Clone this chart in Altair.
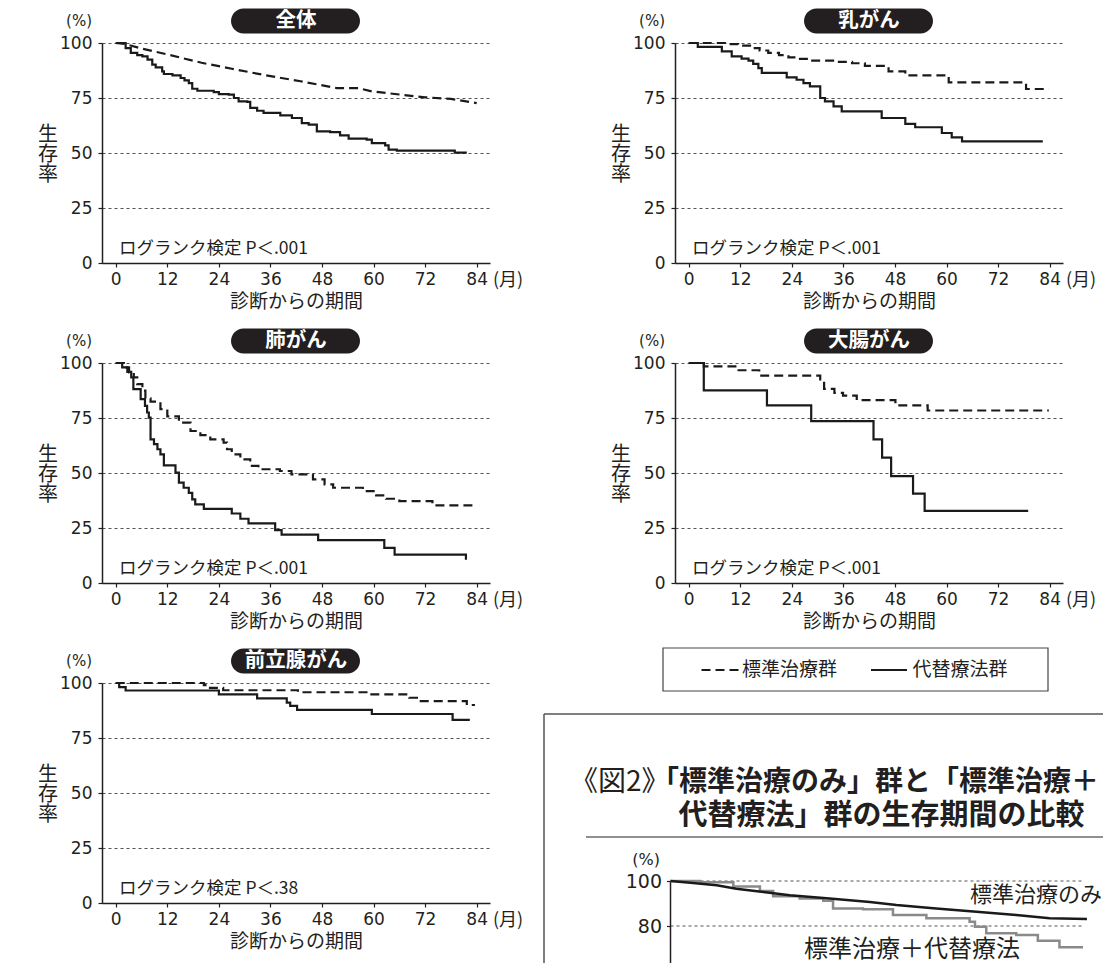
import altair as alt
import pandas as pd

# ---------------- data ----------------
MONTH_TICKS = [0, 12, 24, 36, 48, 60, 72, 84]
PCT_TICKS = [0, 25, 50, 75, 100]

PANEL_TITLES = ["全体", "乳がん", "肺がん", "大腸がん", "前立腺がん"]
PVALUES = ["P＜.001", "P＜.001", "P＜.001", "P＜.001", "P＜.38"]

# 全体
ALL_STD_M = [0, 2, 6, 12, 20, 27, 35, 43, 51.5, 56.5, 59.6, 66, 72, 78, 84]
ALL_STD_S = [100, 99.6, 97.5, 94.8, 91.0, 88.3, 85.3, 82.6, 79.5, 79.5, 78.0, 76.6, 75.3, 74.6, 72.7]
ALL_ALT_M = [0, 2.3, 3.5, 5.0, 6.2, 7.4, 8.5, 9.3, 10.8, 11.2, 13.2, 15.1, 16.0, 17.0, 17.8, 19.0,
             22.8, 24.0, 26.3, 27.5, 28.6, 30.6, 31.3, 32.9, 34.4, 38.3, 41.0, 43.3, 44.9, 46.8,
             49.9, 52.2, 54.2, 58.4, 59.6, 62.7, 63.5, 65.4, 78.9, 81.7]
ALL_ALT_S = [100, 97.7, 95.5, 94.5, 93.9, 92.4, 90.2, 88.9, 87.1, 85.9, 85.3, 84.1, 83.0, 81.8, 79.2, 78.3,
             77.7, 76.8, 76.5, 75.0, 73.5, 73.2, 70.5, 69.2, 68.2, 67.1, 65.9, 63.6, 62.9, 59.8,
             59.5, 58.0, 56.5, 56.1, 54.5, 53.5, 51.5, 51.1, 50.2, 50.2]

# 乳がん
BR_STD_M = [0, 8.4, 11.5, 14.6, 16.5, 18.5, 21.0, 23.2, 25.5, 27.8, 34.1, 38.0, 41.0, 46.5, 50.4, 60.5, 78.5, 83.8]
BR_STD_S = [100, 99.5, 98.8, 97.7, 96.6, 95.5, 94.5, 93.5, 92.8, 92.0, 91.4, 90.8, 89.6, 87.1, 85.3, 82.1, 79.1, 79.1]
BR_ALT_M = [0, 2.1, 7.7, 10.0, 12.3, 13.9, 15.0, 16.2, 17.0, 22.8, 25.1, 26.7, 28.2, 30.6, 31.7, 33.7,
            35.6, 44.9, 50.4, 52.7, 58.9, 61.2, 63.6, 82.4]
BR_ALT_S = [100, 98.2, 96.2, 93.9, 92.9, 92.0, 90.5, 88.6, 86.4, 84.4, 83.3, 81.8, 80.3, 75.0, 73.5, 71.2,
            68.9, 65.9, 63.2, 61.7, 59.1, 57.1, 55.3, 55.3]

# 肺がん
LU_STD_M = [0, 1.9, 3.1, 4.2, 5.0, 6.2, 6.9, 8.1, 10.4, 12.0, 14.7, 17.4, 19.7, 22.0, 25.1, 25.9, 27.0,
            29.0, 31.3, 33.2, 38.2, 40.9, 45.9, 48.6, 50.6, 57.5, 60.6, 62.9, 66.0, 73.7, 83.8]
LU_STD_S = [100, 98.0, 95.7, 93.5, 90.4, 87.4, 83.9, 82.4, 79.0, 75.7, 72.9, 69.1, 67.2, 65.3, 63.8, 60.8, 58.5,
            56.2, 53.2, 51.7, 50.9, 49.4, 47.1, 44.8, 43.3, 41.8, 39.8, 38.3, 37.2, 35.3, 35.3]
LU_ALT_M = [0, 1.5, 2.7, 3.6, 4.1, 5.8, 6.8, 7.3, 7.7, 8.1, 8.9, 9.7, 10.4, 11.2, 13.9, 14.7, 15.8, 17.0,
            17.8, 18.5, 20.5, 27.0, 29.0, 30.9, 37.1, 38.6, 47.1, 62.5, 64.9, 81.5]
LU_ALT_S = [100, 98.0, 96.0, 93.5, 88.1, 83.6, 80.5, 77.5, 75.2, 65.3, 63.1, 60.8, 58.5, 53.5, 50.2, 45.6, 43.3, 41.0,
            38.0, 35.7, 33.7, 31.6, 29.2, 27.1, 24.0, 22.0, 19.5, 16.0, 12.9, 10.6]

# 大腸がん
CO_STD_M = [0, 3.5, 11.2, 16.4, 30.6, 31.5, 33.9, 35.9, 39.1, 48.1, 55.6, 83.8]
CO_STD_S = [100, 98.5, 96.7, 94.3, 91.7, 88.2, 86.4, 85.2, 83.1, 80.7, 78.4, 78.4]
CO_ALT_M = [0, 3.5, 18.2, 28.5, 43.0, 45.0, 47.1, 52.2, 54.9, 79.0]
CO_ALT_S = [100, 87.6, 80.7, 73.6, 65.3, 57.0, 48.6, 40.6, 32.8, 32.8]

# 前立腺がん
PR_STD_M = [0, 20.5, 21.5, 25.0, 42.4, 58.9, 68.3, 70.6, 81.7, 83.6]
PR_STD_S = [100, 99.0, 97.8, 96.7, 95.8, 94.8, 93.3, 91.8, 90.0, 90.0]
PR_ALT_M = [0, 0.8, 2.3, 24.0, 32.9, 39.8, 40.6, 42.2, 59.6, 78.4, 82.4]
PR_ALT_S = [100, 98.1, 96.6, 94.8, 93.0, 91.1, 89.6, 87.8, 85.9, 83.2, 83.2]

# 図2 (only its top part is visible)
F2_STD_M = [0, 4.6, 9.4, 13.4, 18.9, 24.3, 32.4, 40.6, 46.0, 54.1, 62.3, 70.4, 77.2, 84.8]
F2_STD_S = [100, 99.1, 98.1, 96.6, 95.1, 93.7, 92.2, 90.7, 89.3, 87.8, 86.3, 84.9, 83.4, 83.1]
F2_CM_M = [0, 6.0, 12.8, 18.2, 20.9, 26.3, 31.1, 33.1, 39.2, 45.3, 52.1, 60.9, 62.0, 64.3, 70.4, 74.8, 79.2, 84.0]
F2_CM_S = [100, 99.4, 97.6, 95.6, 93.2, 92.2, 91.2, 87.8, 87.4, 84.9, 83.4, 81.9, 79.7, 76.8, 76.0, 73.5, 70.6, 70.6]
F2_PCT_TICKS = [80, 100]
F2_GRID = [80, 100]
F2_MONTH_RANGE = [0, 84]

LEGEND_LABELS = ["標準治療群", "代替療法群"]
F2_TITLE_PREFIX = "《図2》"
F2_TITLE_1 = "「標準治療のみ」群と「標準治療＋"
F2_TITLE_2 = "代替療法」群の生存期間の比較"
F2_LABEL_STD = "標準治療のみ"
F2_LABEL_CM = "標準治療＋代替療法"

# ---------------- styling ----------------
JP = "Noto Sans CJK JP"
NUM = "DejaVu Sans"
INK = "#231f20"
X_DOMAIN = [-3.2, 87.1]
PW, PH = 388, 220
DASH = [9, 5]
ONE = pd.DataFrame({"k": [0]})


def txt(text, x, y, size, font=JP, weight="normal", color=INK, align="left",
        baseline="middle", line_height=None):
    kw = dict(font=font, fontSize=size, fontWeight=weight, color=color,
              align=align, baseline=baseline)
    if line_height is not None:
        kw["lineBreak"] = "\n"
        kw["lineHeight"] = line_height
    return alt.Chart(pd.DataFrame({"t": [text]})).mark_text(**kw).encode(
        x=alt.value(x), y=alt.value(y), text="t:N")


def x_axis():
    return alt.Axis(values=MONTH_TICKS, title="診断からの期間", titleFont=JP, titleFontSize=19,
                    titleFontWeight="normal", titleColor=INK, titlePadding=5,
                    labelFont=NUM, labelFontSize=17, labelColor=INK,
                    labelPadding=4, labelFlush=False, labelOverlap=False,
                    tickSize=4, tickColor=INK, tickWidth=1.2,
                    domainColor=INK, domainWidth=1.5, grid=False)


def y_axis():
    return alt.Axis(values=PCT_TICKS, title=None, labelFont=NUM, labelFontSize=17,
                    labelColor=INK, labelPadding=6, labelOverlap=False,
                    tickSize=4, tickColor=INK, tickWidth=1.2,
                    domainColor=INK, domainWidth=1.5,
                    grid=True, gridDash=[3, 3], gridColor="#555555", gridWidth=1)


def curve(months, surv, dashed, interp, xenc_kw, yenc_kw, color="#1a1a1a", width=2.2):
    df = pd.DataFrame({"m": months, "s": surv})
    kw = dict(interpolate=interp, color=color, strokeWidth=width, strokeCap="butt")
    if dashed:
        kw["strokeDash"] = DASH
    return alt.Chart(df).mark_line(**kw).encode(
        x=alt.X("m:Q", **xenc_kw), y=alt.Y("s:Q", **yenc_kw))


def panel(title, pval, std_m, std_s, alt_m, alt_s, std_interp="step-after"):
    xk = dict(scale=alt.Scale(domain=X_DOMAIN, nice=False, zero=False), axis=x_axis())
    yk = dict(scale=alt.Scale(domain=[0, 100], nice=False), axis=y_axis())
    pill = alt.Chart(ONE).mark_rect(cornerRadius=12.5, color=INK).encode(
        x=alt.value(129), x2=alt.value(258), y=alt.value(-34.5), y2=alt.value(-9.5))
    layers = [
        curve(std_m, std_s, True, std_interp, xk, yk),
        curve(alt_m, alt_s, False, "step-after", xk, yk),
        pill,
        txt(title, 194, -22, 20.5, weight="bold", color="white", align="center"),
        txt("(%)", -10, -22, 15, font=NUM, align="right"),
        txt("生\n存\n率", -54, 92, 20, align="center", line_height=20),
        txt("ログランク検定 " + pval, 17, 206, 17.5),
        txt("(月)", 391, 238, 18),
    ]
    return alt.layer(*layers).properties(width=PW, height=PH)


p1 = panel(PANEL_TITLES[0], PVALUES[0], ALL_STD_M, ALL_STD_S, ALL_ALT_M, ALL_ALT_S, std_interp="linear")
p2 = panel(PANEL_TITLES[1], PVALUES[1], BR_STD_M, BR_STD_S, BR_ALT_M, BR_ALT_S)
p3 = panel(PANEL_TITLES[2], PVALUES[2], LU_STD_M, LU_STD_S, LU_ALT_M, LU_ALT_S)
p4 = panel(PANEL_TITLES[3], PVALUES[3], CO_STD_M, CO_STD_S, CO_ALT_M, CO_ALT_S)
p5 = panel(PANEL_TITLES[4], PVALUES[4], PR_STD_M, PR_STD_S, PR_ALT_M, PR_ALT_S)

# ---- legend + figure 2 cell (view = visible window part of figure 2) ----
FW, FH = 429, 280
PX_PER_MONTH = 4.911
PX_PER_PCT = 2.25
F2_X0 = 4.5      # px from the view's left edge back to month 0
F2_Y100 = 198    # px from the view's top down to 100 %
f2_xdom = [F2_X0 / PX_PER_MONTH, (FW + F2_X0) / PX_PER_MONTH]
f2_ydom = [100 - (FH - F2_Y100) / PX_PER_PCT, 100 + F2_Y100 / PX_PER_PCT]
f2x = dict(scale=alt.Scale(domain=f2_xdom, nice=False, zero=False), axis=None)
f2y = dict(scale=alt.Scale(domain=f2_ydom, nice=False, zero=False),
           axis=alt.Axis(values=F2_PCT_TICKS, title=None, domain=False, grid=False, offset=F2_X0,
                         labelFont=NUM, labelFontSize=19, labelColor=INK, labelPadding=5,
                         tickSize=4, tickColor=INK, tickWidth=1.2))

grid_df = pd.DataFrame({"m0": [F2_MONTH_RANGE[0]] * len(F2_GRID),
                        "m1": [F2_MONTH_RANGE[1]] * len(F2_GRID), "s": F2_GRID})
axis_df = pd.DataFrame({"m": [F2_MONTH_RANGE[0]], "s": [100]})

fig2 = alt.layer(
    # legend box
    alt.Chart(ONE).mark_rect(fill=None, stroke="#444444", strokeWidth=1.2).encode(
        x=alt.value(-12), x2=alt.value(373), y=alt.value(-35), y2=alt.value(8)),
    alt.Chart(ONE).mark_rule(color="#1a1a1a", strokeWidth=2.2, strokeDash=DASH).encode(
        x=alt.value(26.5), x2=alt.value(63.5), y=alt.value(-13)),
    txt(LEGEND_LABELS[0], 67, -13, 19),
    alt.Chart(ONE).mark_rule(color="#1a1a1a", strokeWidth=2.2).encode(
        x=alt.value(196), x2=alt.value(232), y=alt.value(-13)),
    txt(LEGEND_LABELS[1], 237.5, -13, 19),
    # figure-2 frame (only left and top edges are inside the window)
    alt.Chart(ONE).mark_rule(color="#555555", strokeWidth=1.5).encode(
        x=alt.value(-131), x2=alt.value(428), y=alt.value(31)),
    alt.Chart(ONE).mark_rule(color="#555555", strokeWidth=1.5).encode(
        x=alt.value(-131), y=alt.value(31), y2=alt.value(FH)),
    # title
    txt(F2_TITLE_PREFIX, -105, 100, 28),
    txt(F2_TITLE_1, -24, 100, 28, weight="bold"),
    txt(F2_TITLE_2, 3.5, 133, 29, weight="bold"),
    alt.Chart(ONE).mark_rule(color="#222222", strokeWidth=1.2).encode(
        x=alt.value(-89), x2=alt.value(428), y=alt.value(154)),
    txt("(%)", -15, 177, 16, font=NUM, align="right"),
    # plot
    alt.Chart(grid_df).mark_rule(color="#555555", strokeWidth=1, strokeDash=[3, 3]).encode(
        x=alt.X("m0:Q", **f2x), x2="m1:Q", y=alt.Y("s:Q", **f2y)),
    alt.Chart(axis_df).mark_rule(color=INK, strokeWidth=1.5).encode(
        x=alt.X("m:Q", **f2x), y=alt.Y("s:Q", **f2y), y2=alt.value(FH)),
    curve(F2_CM_M, F2_CM_S, False, "step-after", f2x, f2y, color="#8a8a8a", width=2.5),
    curve(F2_STD_M, F2_STD_S, False, "linear", f2x, f2y, color="#1a1a1a", width=2.5),
    txt(F2_LABEL_STD, 295, 212, 22),
    txt(F2_LABEL_CM, 129, 267, 24),
).properties(width=FW, height=FH)

chart = alt.concat(
    p1, p2, p3, p4, p5, fig2, columns=2,
    spacing={"row": 100, "column": 185}, bounds="flush",
).properties(
    padding={"left": 30, "top": 0, "right": 0, "bottom": 0},
    background="white",
).configure_view(stroke=None)

chart.save("out.html", embed_options={"renderer": "svg", "actions": False})
